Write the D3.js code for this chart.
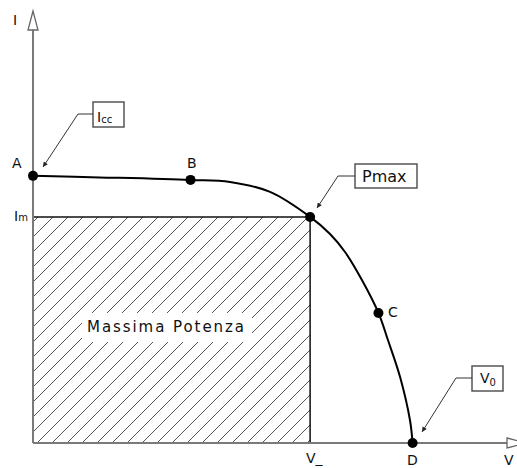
<!DOCTYPE html>
<html>
<head>
<meta charset="utf-8">
<script src="https://cdn.jsdelivr.net/npm/d3@7"></script>
<style>
  html, body { margin: 0; padding: 0; background: #fff; }
  svg { display: block; }
  text { font-family: "DejaVu Sans", sans-serif; fill: #111; }
</style>
</head>
<body>
<svg id="chart" width="517" height="468"></svg>
<script>
// I-V characteristic of a photovoltaic cell (voltage in V, current in A)
const curveV = [0, 3.5, 8.3, 10.38, 12.49, 14.6, 15.65, 16.44, 17.33, 18.2, 18.7, 19.34, 19.86, 20];
const curveI = [3.5, 3.48, 3.447, 3.42, 3.29, 2.962, 2.738, 2.502, 2.135, 1.704, 1.349, 0.865, 0.301, 0];

// Named points on the curve
const pointNames = ["A", "B", "Pmax", "C", "D"];
const pointV = [0, 8.3, 14.6, 18.2, 20];
const pointI = [3.5, 3.447, 2.962, 1.704, 0];

// Maximum power operating point
const Vm = 14.6;
const Im = 2.962;
const areaLabel = "Massima Potenza";

const svg = d3.select("#chart");

const x = d3.scaleLinear().domain([0, 25.5]).range([33, 517]);
const y = d3.scaleLinear().domain([0, 5.66]).range([443, 11]);

// Hatch pattern for the power rectangle
const defs = svg.append("defs");
const pat = defs.append("pattern")
  .attr("id", "hatch")
  .attr("patternUnits", "userSpaceOnUse")
  .attr("width", 15).attr("height", 15);
pat.append("path")
  .attr("d", "M0,15 L15,0 M-4,4 L4,-4 M11,19 L19,11")
  .attr("stroke", "#555").attr("stroke-width", 1);

defs.append("marker")
  .attr("id", "tip")
  .attr("viewBox", "0 0 10 10")
  .attr("refX", 10).attr("refY", 5)
  .attr("markerWidth", 9).attr("markerHeight", 5)
  .attr("markerUnits", "userSpaceOnUse")
  .attr("orient", "auto")
  .append("path").attr("d", "M0,0 L10,5 L0,10 Z").attr("fill", "#222");

// Hatched area V_m x I_m
svg.append("rect")
  .attr("x", x(0)).attr("y", y(Im))
  .attr("width", x(Vm) - x(0)).attr("height", y(0) - y(Im))
  .attr("fill", "url(#hatch)");

// Clear band behind the area label
svg.append("rect")
  .attr("x", 82).attr("y", 313).attr("width", 170).attr("height", 29)
  .attr("fill", "#fff");
svg.append("text")
  .attr("x", 87).attr("y", 332)
  .attr("font-size", 15)
  .attr("textLength", 157).attr("lengthAdjust", "spacing")
  .text(areaLabel);

// Borders of the rectangle
svg.append("path")
  .attr("d", `M${x(0)},${y(Im)} H${x(Vm)} V${y(0)}`)
  .attr("fill", "none").attr("stroke", "#111").attr("stroke-width", 1.5);

// Axes
const axisColor = "#7a7a7a";
svg.append("line")
  .attr("x1", x(0)).attr("y1", y(0)).attr("x2", x(0)).attr("y2", 30)
  .attr("stroke", axisColor).attr("stroke-width", 2);
svg.append("line")
  .attr("x1", x(0)).attr("y1", y(0)).attr("x2", 507).attr("y2", y(0))
  .attr("stroke", axisColor).attr("stroke-width", 2);
// Open arrowheads
svg.append("path")
  .attr("d", `M${x(0)},11 L${x(0) - 5},30 L${x(0) + 5},30 Z`)
  .attr("fill", "#fff").attr("stroke", "#666").attr("stroke-width", 1.3);
svg.append("path")
  .attr("d", `M507,${y(0) - 5} L526,${y(0)} L507,${y(0) + 5} Z`)
  .attr("fill", "#fff").attr("stroke", "#666").attr("stroke-width", 1.3);

// I-V curve
const line = d3.line()
  .x((d, i) => x(curveV[i]))
  .y((d, i) => y(curveI[i]))
  .curve(d3.curveCatmullRom.alpha(0.5));
svg.append("path")
  .datum(curveV)
  .attr("d", line)
  .attr("fill", "none").attr("stroke", "#000").attr("stroke-width", 2);

// Points
svg.selectAll("circle.pt")
  .data(pointNames)
  .join("circle")
  .attr("class", "pt")
  .attr("cx", (d, i) => x(pointV[i]))
  .attr("cy", (d, i) => y(pointI[i]))
  .attr("r", 5)
  .attr("fill", "#000");

// Point letters
const fs = 14;
svg.append("text").attr("x", 12).attr("y", 168).attr("font-size", fs).text("A");
svg.append("text").attr("x", 187).attr("y", 168).attr("font-size", fs).text("B");
svg.append("text").attr("x", 388).attr("y", 317).attr("font-size", fs).text("C");
svg.append("text").attr("x", 407).attr("y", 465).attr("font-size", fs).text("D");

// Axis names
svg.append("text").attr("x", 13).attr("y", 25).attr("font-size", fs).text("I");
svg.append("text").attr("x", 504).attr("y", 465).attr("font-size", fs).text("V");

// I_m and V_ marks
const imLabel = svg.append("text").attr("x", 14).attr("y", 221).attr("font-size", fs);
imLabel.append("tspan").text("I");
imLabel.append("tspan").attr("font-size", 10).attr("dy", 0).text("m");
svg.append("text").attr("x", 306).attr("y", 463).attr("font-size", fs).text("V_");

// Callout boxes with leader arrows
function callout(box, leader, tip, drawText) {
  svg.append("rect")
    .attr("x", box[0]).attr("y", box[1]).attr("width", box[2]).attr("height", box[3])
    .attr("fill", "#fff").attr("stroke", "#555").attr("stroke-width", 1.5);
  svg.append("path")
    .attr("d", `M${box[0]},${leader[1]} H${leader[0]} L${tip[0]},${tip[1]}`)
    .attr("fill", "none").attr("stroke", "#333").attr("stroke-width", 1)
    .attr("marker-end", "url(#tip)");
  drawText();
}

callout([93, 102, 31, 25], [78, 114], [43, 167], () => {
  const t = svg.append("text").attr("x", 97).attr("y", 122).attr("font-size", fs);
  t.append("tspan").text("I");
  t.append("tspan").attr("font-size", 10).attr("dy", 1).text("cc");
});

callout([355, 164, 62, 24], [338, 176], [317, 208], () => {
  svg.append("text").attr("x", 362).attr("y", 182).attr("font-size", 16).text("Pmax");
});

callout([472, 366, 31, 25], [456, 378], [422, 432], () => {
  const t = svg.append("text").attr("x", 480).attr("y", 383).attr("font-size", fs);
  t.append("tspan").text("V");
  t.append("tspan").attr("font-size", 10).attr("dy", 3).text("0");
});
</script>
</body>
</html>
